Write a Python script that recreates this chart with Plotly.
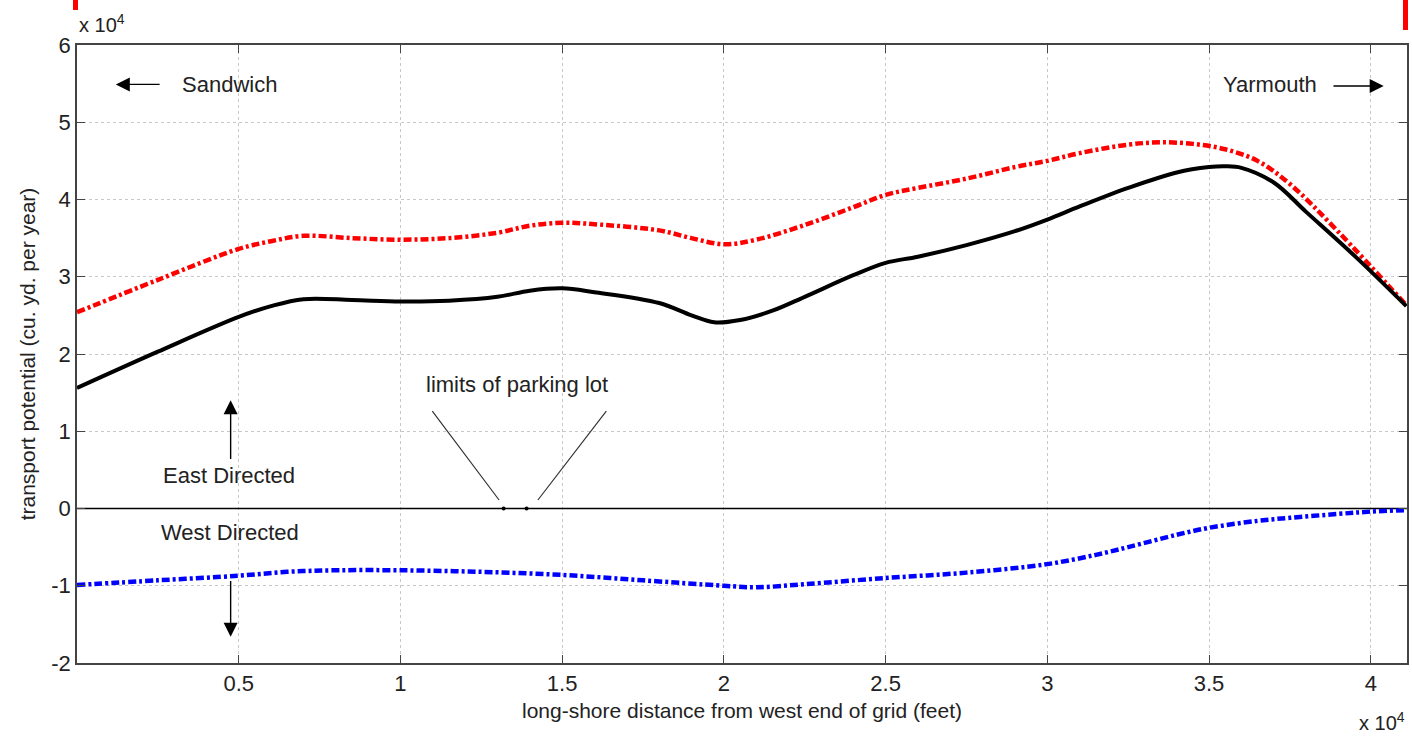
import plotly.graph_objects as go

# x in units of 1e4 feet, y in units of 1e4 cu. yd. per year
x_black = [0.0, 0.25, 0.5, 0.6, 0.7, 0.85, 1.0, 1.15, 1.3, 1.4, 1.5, 1.6, 1.8, 1.9, 1.97, 2.05, 2.15, 2.25, 2.4, 2.5, 2.6, 2.75, 2.9, 3.0, 3.1, 3.25, 3.4, 3.5, 3.55, 3.6, 3.7, 3.8, 3.95, 4.11]
y_black = [1.56, 2.03, 2.48, 2.62, 2.71, 2.70, 2.68, 2.69, 2.74, 2.82, 2.85, 2.80, 2.66, 2.50, 2.41, 2.44, 2.56, 2.74, 3.02, 3.18, 3.26, 3.41, 3.59, 3.74, 3.91, 4.15, 4.35, 4.42, 4.43, 4.41, 4.22, 3.84, 3.27, 2.62]

x_red = [0.0, 0.25, 0.5, 0.6, 0.7, 0.85, 1.0, 1.15, 1.3, 1.4, 1.5, 1.6, 1.8, 1.9, 2.0, 2.1, 2.25, 2.4, 2.5, 2.6, 2.75, 2.9, 3.0, 3.1, 3.25, 3.35, 3.45, 3.55, 3.65, 3.75, 3.9, 4.11]
y_red = [2.54, 2.96, 3.36, 3.46, 3.53, 3.50, 3.48, 3.50, 3.57, 3.66, 3.70, 3.68, 3.60, 3.50, 3.42, 3.48, 3.67, 3.90, 4.06, 4.15, 4.27, 4.42, 4.50, 4.60, 4.71, 4.74, 4.72, 4.65, 4.50, 4.20, 3.58, 2.63]

x_blue = [0.0, 0.25, 0.5, 0.65, 0.8, 1.0, 1.25, 1.5, 1.75, 2.0, 2.1, 2.25, 2.5, 2.75, 3.0, 3.15, 3.25, 3.4, 3.5, 3.65, 3.75, 3.9, 4.0, 4.11]
y_blue = [-0.99, -0.93, -0.87, -0.82, -0.80, -0.80, -0.82, -0.86, -0.93, -1.00, -1.02, -0.98, -0.90, -0.83, -0.72, -0.60, -0.50, -0.34, -0.25, -0.16, -0.12, -0.07, -0.04, -0.02]

x_lot = [1.319, 1.39]
y_lot = [0.0, 0.0]

x_ticks = [0.5, 1, 1.5, 2, 2.5, 3, 3.5, 4]
x_ticktext = ["0.5", "1", "1.5", "2", "2.5", "3", "3.5", "4"]
y_ticks = [-2, -1, 0, 1, 2, 3, 4, 5, 6]
y_ticktext = ["-2", "-1", "0", "1", "2", "3", "4", "5", "6"]

XMAX = 4.112
FONT = "Liberation Sans, Arial, sans-serif"
FS = 22

fig = go.Figure()

fig.add_trace(go.Scatter(x=[0, XMAX], y=[0, 0], mode="lines",
                         line=dict(color="black", width=1.3), hoverinfo="skip"))
fig.add_trace(go.Scatter(x=x_red, y=y_red, mode="lines", line_shape="spline",
                         line=dict(color="#ff0000", width=4.5, dash="8px,3px,3px,3px")))
fig.add_trace(go.Scatter(x=x_black, y=y_black, mode="lines", line_shape="spline",
                         line=dict(color="black", width=4)))
fig.add_trace(go.Scatter(x=x_blue, y=y_blue, mode="lines", line_shape="spline",
                         line=dict(color="#0000ff", width=4.5, dash="8px,3px,3px,3px")))
fig.add_trace(go.Scatter(x=x_lot, y=y_lot, mode="markers",
                         marker=dict(color="black", size=4)))

ann = []
def text(x, y, s, xanchor="center", xref="x", yref="y", size=FS):
    ann.append(dict(x=x, y=y, xref=xref, yref=yref, text=s, showarrow=False,
                    xanchor=xanchor, yanchor="middle", font=dict(size=size, color="#222", family=FONT)))

def arrow(x, y, ax, ay):
    ann.append(dict(x=x, y=y, ax=ax, ay=ay, xref="x", yref="y", axref="x", ayref="y",
                    text="", showarrow=True, arrowhead=2, arrowsize=2.0, arrowwidth=1.4,
                    arrowcolor="black"))

def seg(x, y, ax, ay):
    ann.append(dict(x=x, y=y, ax=ax, ay=ay, xref="x", yref="y", axref="x", ayref="y",
                    text="", showarrow=True, arrowhead=0, arrowwidth=1.2,
                    arrowcolor="#333"))

text(0.318, 5.49, "Sandwich", "left")
arrow(0.12, 5.49, 0.26, 5.49)
text(3.84, 5.49, "Yarmouth", "right")
arrow(4.04, 5.47, 3.88, 5.47)
text(1.36, 1.6, "limits of parking lot")
seg(1.305, 0.11, 1.095, 1.28)
seg(1.425, 0.11, 1.64, 1.28)
text(0.259, 0.43, "East Directed", "left")
arrow(0.475, 1.4, 0.475, 0.62)
text(0.253, -0.31, "West Directed", "left")
arrow(0.475, -1.66, 0.475, -0.92)
text(0.0, 1.035, "x 10<sup>4</sup>", "left", xref="paper", yref="paper", size=20)
text(1.0, -0.095, "x 10<sup>4</sup>", "right", xref="paper", yref="paper", size=20)

PH = 618.0  # plot height in px
fig.update_layout(
    width=1412, height=736,
    margin=dict(l=77, r=5, t=45, b=73, autoexpand=False),
    plot_bgcolor="white", paper_bgcolor="white",
    showlegend=False,
    font=dict(family=FONT, size=FS, color="#222"),
    annotations=ann,
    shapes=[
        dict(type="rect", xref="paper", yref="paper", x0=-4.0 / 1330, x1=1.0 / 1330,
             y0=(PH + 35) / PH, y1=(PH + 46) / PH, fillcolor="red", line_width=0, layer="above"),
        dict(type="rect", xref="paper", yref="paper", x0=(1403 - 77) / 1330, x1=(1408 - 77) / 1330,
             y0=(PH + 15) / PH, y1=(PH + 46) / PH, fillcolor="red", line_width=0, layer="above"),
    ],
    xaxis=dict(range=[0, XMAX], tickvals=x_ticks, ticktext=x_ticktext, automargin=False,
               showgrid=True, gridcolor="#c8c8c8", griddash="dot", gridwidth=1,
               ticks="inside", ticklen=8, tickcolor="#444", mirror="ticks",
               showline=True, linecolor="#444", linewidth=1.5, zeroline=False,
               title=dict(text="long-shore distance from west end of grid (feet)",
                          font=dict(size=21), standoff=8),
               tickfont=dict(size=FS)),
    yaxis=dict(range=[-2, 6], tickvals=y_ticks, ticktext=y_ticktext, automargin=False,
               showgrid=True, gridcolor="#c8c8c8", griddash="dot", gridwidth=1,
               ticks="inside", ticklen=8, tickcolor="#444", mirror="ticks",
               showline=True, linecolor="#444", linewidth=1.5, zeroline=False,
               title=dict(text="transport potential (cu. yd. per year)",
                          font=dict(size=21), standoff=10),
               tickfont=dict(size=FS)),
)

fig.write_html("out.html", config={"displayModeBar": False},
               post_script="document.body.style.margin='0px';")
